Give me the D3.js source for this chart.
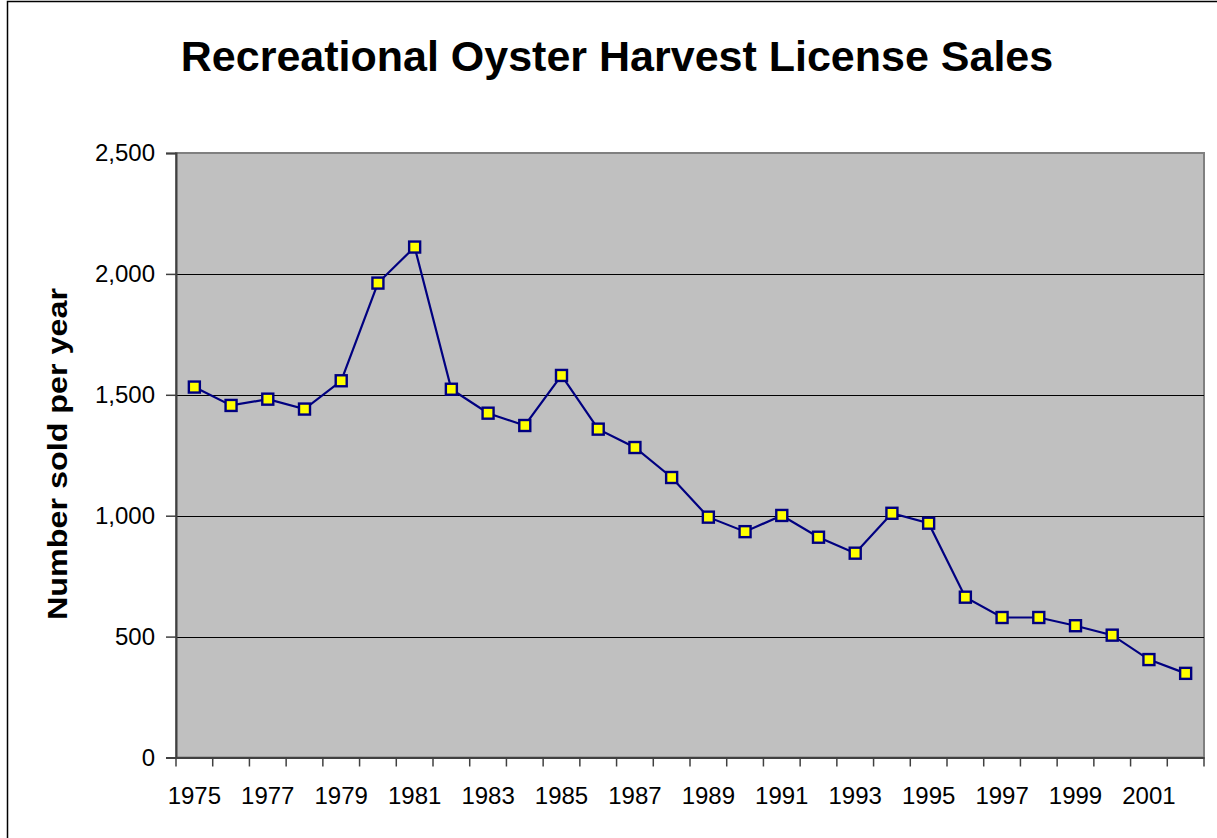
<!DOCTYPE html>
<html><head><meta charset="utf-8">
<script src="https://cdn.jsdelivr.net/npm/d3@7"></script>
<style>body{margin:0;background:#fff}svg{display:block}</style>
</head><body>
<svg id="chart" width="1217" height="838"></svg>
<script>
const years = [1975,1976,1977,1978,1979,1980,1981,1982,1983,1984,1985,1986,1987,1988,1989,1990,1991,1992,1993,1994,1995,1996,1997,1998,1999,2000,2001,2002];
const sales = [1532,1456,1482,1441,1558,1962,2111,1523,1424,1373,1580,1358,1282,1158,994,934,1001,911,845,1010,969,663,579,579,545,506,405,348];
const yTicks = [0,500,1000,1500,2000,2500];
const xLabelYears = [1975,1977,1979,1981,1983,1985,1987,1989,1991,1993,1995,1997,1999,2001];

const svg = d3.select("#chart");
const W = 1217, H = 838;
const m = {left:176, right:1204, top:153, bottom:757.5};
const FONT = "Liberation Sans, Arial, sans-serif";

svg.append("rect").attr("x",7.5).attr("y",1.5).attr("width",W).attr("height",H)
  .attr("fill","#fff").attr("stroke","#000").attr("stroke-width",1.5);

const x = d3.scaleBand().domain(years).range([m.left, m.right]);
const y = d3.scaleLinear().domain([0,2500]).range([m.bottom, m.top]);

svg.append("rect").attr("x",m.left).attr("y",m.top)
  .attr("width",m.right-m.left).attr("height",m.bottom-m.top)
  .attr("fill","#C0C0C0").attr("stroke","#808080").attr("stroke-width",2);

// gridlines
svg.append("g").selectAll("line").data(yTicks.filter(d=>d>0&&d<2500)).join("line")
  .attr("x1",m.left).attr("x2",m.right)
  .attr("y1",d=>Math.round(y(d))+0.5).attr("y2",d=>Math.round(y(d))+0.5)
  .attr("stroke","#000").attr("stroke-width",1);

// y axis
const yAxis = svg.append("g").attr("transform",`translate(${m.left},0)`)
  .call(d3.axisLeft(y).tickValues(yTicks).tickSize(10).tickPadding(11).tickFormat(d3.format(",")));
yAxis.select(".domain").attr("stroke","#404040").attr("stroke-width",2);
yAxis.selectAll(".tick line").attr("stroke","#404040").attr("stroke-width",1.5);
yAxis.selectAll("text").attr("font-family",FONT).attr("font-size",24).attr("fill","#000");

// x axis
const xAxis = svg.append("g").attr("transform",`translate(0,${m.bottom})`)
  .call(d3.axisBottom(x).tickValues([]).tickSize(0));
xAxis.select(".domain").attr("stroke","#404040").attr("stroke-width",2);
const bounds = years.map(d=>x(d)).concat([m.right]);
xAxis.selectAll(".xt").data(bounds).join("line").attr("class","xt")
  .attr("x1",d=>d).attr("x2",d=>d).attr("y1",0).attr("y2",9)
  .attr("stroke","#404040").attr("stroke-width",1.5);
xAxis.selectAll(".xl").data(xLabelYears).join("text").attr("class","xl")
  .attr("x",d=>x(d)+x.bandwidth()/2).attr("y",46)
  .attr("text-anchor","middle")
  .attr("font-family",FONT).attr("font-size",24).attr("fill","#000")
  .text(d=>d);

// line
const cx = d=>x(d)+x.bandwidth()/2;
svg.append("path").datum(years.map((d,i)=>[cx(d),y(sales[i])]))
  .attr("d",d3.line()).attr("fill","none").attr("stroke","#000080").attr("stroke-width",2.2);

svg.append("g").selectAll("rect").data(years).join("rect")
  .attr("x",(d)=>cx(d)-5.5).attr("y",(d,i)=>y(sales[i])-5.5)
  .attr("width",11).attr("height",11)
  .attr("fill","#FFFF00").attr("stroke","#000080").attr("stroke-width",2.4);

// title
svg.append("text").attr("x",617).attr("y",71).attr("text-anchor","middle")
  .attr("font-family",FONT).attr("font-weight","bold")
  .attr("font-size",43).attr("fill","#000")
  .text("Recreational Oyster Harvest License Sales");

// y title
svg.append("text").attr("transform",`translate(67,454) rotate(-90)`)
  .attr("text-anchor","middle")
  .attr("font-family",FONT).attr("font-weight","bold")
  .attr("font-size",27).attr("fill","#000")
  .attr("textLength",332).attr("lengthAdjust","spacingAndGlyphs")
  .text("Number sold per year");
</script>
</body></html>
